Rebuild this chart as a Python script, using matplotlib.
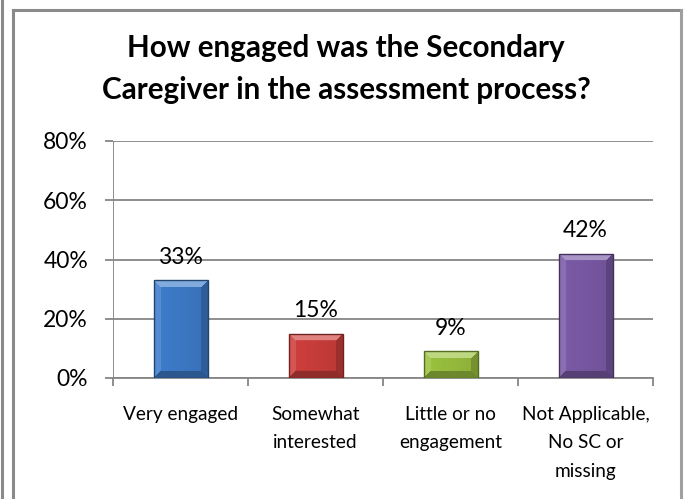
import numpy as np
import matplotlib
matplotlib.use("Agg")
import matplotlib.pyplot as plt
from matplotlib.colors import to_rgb
from matplotlib.patches import Rectangle
from matplotlib.lines import Line2D

# ---- data ----
categories = ["Very engaged", "Somewhat\ninterested", "Little or no\nengagement",
              "Not Applicable,\nNo SC or\nmissing"]
values = [33, 15, 9, 42]
value_labels = ["33%", "15%", "9%", "42%"]
y_ticks = [0, 20, 40, 60, 80]
y_tick_labels = ["0%", "20%", "40%", "60%", "80%"]
bar_colors = ["#3E7DCC", "#CF3F3C", "#9CC33F", "#7C5BA8"]
title = "How engaged was the Secondary\nCaregiver in the assessment process?"

FONT = ["Lato", "DejaVu Sans"]
plt.rcParams["font.family"] = FONT

W, H = 685, 499
fig = plt.figure(figsize=(W / 100, H / 100), dpi=100)
fig.patch.set_facecolor("white")

# plot area in pixel terms
left_px, right_px, zero_px, top_px = 113, 653, 378, 141
ax = fig.add_axes([left_px / W, 1 - zero_px / H, (right_px - left_px) / W,
                   (zero_px - top_px) / H])
ax.set_xlim(-0.5, len(categories) - 0.5)
ax.set_ylim(0, 80)

grid_c = "#868686"
for s in ["top", "right", "left"]:
    ax.spines[s].set_visible(False)
ax.spines["bottom"].set_color(grid_c)
ax.spines["bottom"].set_linewidth(1.3)
ax.yaxis.grid(True, color=grid_c, linewidth=1.3)
ax.set_axisbelow(True)
ax.axvline(-0.5, color=grid_c, linewidth=1.3, zorder=1)

ax.set_yticks(y_ticks)
ax.set_yticklabels(y_tick_labels, fontsize=16.5)
ax.tick_params(axis="y", length=6, width=1.3, color=grid_c, pad=12)

x = np.arange(len(categories))
ax.set_xticks(x)
ax.set_xticklabels(categories, fontsize=13.7, linespacing=1.82)
ax.tick_params(axis="x", which="major", length=0, pad=20)
ax.set_xticks(np.arange(-0.5, len(categories)), minor=True)
ax.tick_params(axis="x", which="minor", length=6, width=1.3, color=grid_c)

bar_w = 0.4
bars = ax.bar(x, values, width=bar_w, color=bar_colors, zorder=3)

fig.canvas.draw()
px_per_x = ax.transData.transform((1, 0))[0] - ax.transData.transform((0, 0))[0]
px_per_y = ax.transData.transform((0, 1))[1] - ax.transData.transform((0, 0))[1]


def mix(c, other, t):
    c = np.array(to_rgb(c))
    return c * (1 - t) + np.array(other) * t


# bevelled fill for each bar
bev = 7.0
for rect, col in zip(bars, bar_colors):
    x0, w = rect.get_x(), rect.get_width()
    h = rect.get_height()
    wp = int(round(w * px_per_x))
    hp = int(round(h * px_per_y))
    jj, ii = np.meshgrid(np.arange(wp) + 0.5, np.arange(hp) + 0.5)
    dt, db = ii, hp - ii
    dl, dr = jj, wp - jj
    img = np.empty((hp, wp, 3))
    img[:] = mix(col, (1, 1, 1), 0.0)
    # soft horizontal shading in the face
    shade = 0.10 * (jj / wp)
    img = img * (1 - shade[..., None])
    dmin = np.minimum(np.minimum(dt, db), np.minimum(dl, dr))
    inb = dmin < bev
    top = inb & (dt == dmin)
    bot = inb & (db == dmin) & ~top
    lft = inb & (dl == dmin) & ~top & ~bot
    rgt = inb & (dr == dmin) & ~top & ~bot & ~lft
    img[top] = mix(col, (1, 1, 1), 0.35)
    img[lft] = mix(col, (1, 1, 1), 0.12)
    img[rgt] = mix(col, (0, 0, 0), 0.25)
    img[bot] = mix(col, (0, 0, 0), 0.30)
    im = ax.imshow(img, extent=(x0, x0 + w, 0, h), origin="upper",
                   aspect="auto", zorder=4, interpolation="bilinear")
    im.set_clip_path(rect)
    ax.add_patch(Rectangle((x0, 0), w, h, fill=False,
                           edgecolor=mix(col, (0, 0, 0), 0.45), linewidth=1.0,
                           zorder=5))
    rect.set_visible(False)

ax.set_xlim(-0.5, len(categories) - 0.5)
ax.set_ylim(0, 80)

for xi, v, lab in zip(x, values, value_labels):
    ax.annotate(lab, (xi, v), xytext=(0, 12), textcoords="offset points",
                ha="center", va="baseline", fontsize=16.5, color="black",
                zorder=6)

fig.text(346 / W, 1 - 69 / H, title, ha="center", va="center",
         fontsize=21.3, fontweight="bold", linespacing=1.62)

# chart frame
frame_c = "#8a8a8a"
fig.add_artist(Line2D([13 / W, 13 / W], [0, 1 - 9.5 / H], color=frame_c,
                      linewidth=2.2, transform=fig.transFigure))
fig.add_artist(Line2D([13 / W, 681 / W], [1 - 9.5 / H, 1 - 9.5 / H],
                      color=frame_c, linewidth=2.2, transform=fig.transFigure))
fig.add_artist(Line2D([681 / W, 681 / W], [0, 1 - 9.5 / H], color="#a0a0a0",
                      linewidth=2.2, transform=fig.transFigure))
fig.add_artist(Line2D([1.5 / W, 1.5 / W], [0, 1], color=frame_c,
                      linewidth=2.2, transform=fig.transFigure))

fig.savefig("out.png", dpi=100, facecolor="white")
